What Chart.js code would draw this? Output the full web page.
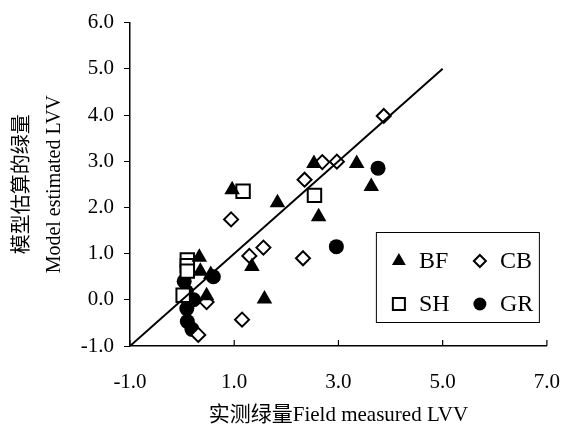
<!DOCTYPE html>
<html>
<head>
<meta charset="utf-8">
<script src="https://cdn.jsdelivr.net/npm/chart.js@4.4.1/dist/chart.umd.min.js"></script>
<style>
  html, body { margin: 0; padding: 0; background: #fff; }
  #wrap { width: 564px; height: 428px; }
</style>
</head>
<body>
<div id="wrap"><canvas id="lvvChart" width="564" height="428"></canvas></div>
<script>
// measured (x) vs model estimated (y) LVV per group
const bfX = [2.53, 3.35, 3.63, 0.96, 1.83, 2.62, 1.34, 1.58, 0.33, 0.35, 0.47, 0.55];
const bfY = [2.95, 2.95, 2.45, 2.38, 2.10, 1.80, 0.72, 0.02, 0.92, 0.62, 0.09, 0.55];
const cbX = [3.87, 2.97, 2.69, 2.35, 0.94, 1.56, 1.29, 2.32, 1.15, 0.31, 0.47];
const cbY = [3.98, 2.99, 2.98, 2.60, 1.74, 1.13, 0.95, 0.90, -0.43, -0.76, -0.05];
const shX = [1.17, 2.54, 0.10, 0.10, 0.10, 0.02];
const shY = [2.35, 2.26, 0.86, 0.74, 0.62, 0.10];
const grX = [3.76, 2.96, 0.60, 0.04, 0.08, 0.22, 0.09, 0.10, 0.19];
const grY = [2.85, 1.15, 0.50, 0.40, 0.18, 0.00, -0.19, -0.47, -0.64];
const lineX = [-1, 5];
const lineY = [-1, 5];
const xTicks = [-1, 1, 3, 5, 7];
const yTicks = [-1, 0, 1, 2, 3, 4, 5, 6];
const groupNames = ['BF', 'CB', 'SH', 'GR'];

const FONT = '"Liberation Serif", "Times New Roman", "Noto Sans CJK SC", serif';

function pts(xs, ys) {
    return xs.map((x, i) => ({ x: x, y: ys[i] }));
}

const styles = [
    { pointStyle: 'triangle', radius: 9, bg: '#000', border: 0 },
    { pointStyle: 'rectRot', radius: 7, bg: '#fff', border: 2 },
    { pointStyle: 'rect', radius: 9.5, bg: '#fff', border: 2 },
    { pointStyle: 'circle', radius: 7.5, bg: '#000', border: 0 }
];
const groupData = [pts(bfX, bfY), pts(cbX, cbY), pts(shX, shY), pts(grX, grY)];

const datasets = groupNames.map((name, i) => ({
    label: name,
    data: groupData[i],
    pointStyle: styles[i].pointStyle,
    pointRadius: styles[i].radius,
    pointBackgroundColor: styles[i].bg,
    pointBorderColor: '#000',
    pointBorderWidth: styles[i].border,
    order: 1
}));

datasets.push({
    label: '1:1',
    data: pts(lineX, lineY),
    showLine: true,
    pointRadius: 0,
    borderColor: '#000',
    borderWidth: 2,
    order: 0
});

// x tick marks point inward (up) like the original
const innerTicks = {
    id: 'innerTicks',
    afterDraw(chart) {
        const ctx = chart.ctx;
        const xs = chart.scales.x;
        const bottom = chart.chartArea.bottom;
        ctx.save();
        ctx.strokeStyle = '#000';
        ctx.lineWidth = 1.2;
        xs.ticks.forEach(t => {
            const px = xs.getPixelForValue(t.value);
            ctx.beginPath();
            ctx.moveTo(px, bottom);
            ctx.lineTo(px, bottom - 6);
            ctx.stroke();
        });
        ctx.restore();
    }
};

// boxed 2x2 legend inside the plot
const boxLegend = {
    id: 'boxLegend',
    afterDraw(chart) {
        const ctx = chart.ctx;
        const area = chart.chartArea;
        const right = area.right - 8;
        const bottom = area.bottom - 24;
        const w = 163, h = 90;
        const left = right - w, top = bottom - h;
        ctx.save();
        ctx.strokeStyle = '#000';
        ctx.lineWidth = 1;
        ctx.strokeRect(left + 0.5, top + 0.5, w, h);
        ctx.font = '24px ' + FONT;
        ctx.textBaseline = 'middle';
        groupNames.forEach((name, i) => {
            const col = i % 2, row = Math.floor(i / 2);
            const mx = left + 23 + col * 81;
            const my = top + 29 + row * 43;
            const s = styles[i];
            ctx.fillStyle = s.bg;
            ctx.strokeStyle = '#000';
            ctx.lineWidth = s.border;
            Chart.helpers.drawPoint(ctx, { pointStyle: s.pointStyle, radius: s.radius - 1, borderWidth: s.border }, mx, my);
            ctx.fillStyle = '#000';
            ctx.fillText(name, mx + 20, my + 1);
        });
        ctx.restore();
    }
};

new Chart(document.getElementById('lvvChart').getContext('2d'), {
    type: 'scatter',
    data: { datasets: datasets },
    options: {
        responsive: false,
        animation: false,
        layout: { padding: { top: 20, right: 0, left: 0, bottom: 0 } },
        plugins: {
            legend: { display: false },
            tooltip: { enabled: false }
        },
        scales: {
            x: {
                type: 'linear',
                min: -1,
                max: 7,
                afterBuildTicks: s => { s.ticks = xTicks.map(v => ({ value: v })); },
                afterFit: s => { s.height = 82; },
                grid: { display: true, drawOnChartArea: false, drawTicks: true, tickLength: 20, tickColor: 'rgba(0,0,0,0)' },
                border: { display: true, color: '#000', width: 1.5 },
                ticks: {
                    padding: 4,
                    color: '#000',
                    font: { family: FONT, size: 21 },
                    callback: v => v.toFixed(1)
                },
                title: {
                    display: true,
                    text: '实测绿量Field measured LVV',
                    color: '#000',
                    font: { family: FONT, size: 21 },
                    padding: { top: 4, bottom: 0 }
                }
            },
            y: {
                type: 'linear',
                min: -1,
                max: 6,
                afterBuildTicks: s => { s.ticks = yTicks.map(v => ({ value: v })); },
                afterFit: s => { s.width = 130; },
                grid: { display: true, drawOnChartArea: false, drawTicks: true, tickLength: 6, color: '#000', tickColor: '#000' },
                border: { display: true, color: '#000', width: 1.5 },
                ticks: {
                    padding: 10,
                    color: '#000',
                    font: { family: FONT, size: 21 },
                    callback: v => v.toFixed(1)
                },
                title: {
                    display: true,
                    text: ['模型估算的绿量', 'Model estimated LVV'],
                    color: '#000',
                    font: { family: FONT, size: 20, lineHeight: 1.6 },
                    padding: { top: 7, bottom: 0 }
                }
            }
        }
    },
    plugins: [innerTicks, boxLegend]
});
</script>
</body>
</html>
